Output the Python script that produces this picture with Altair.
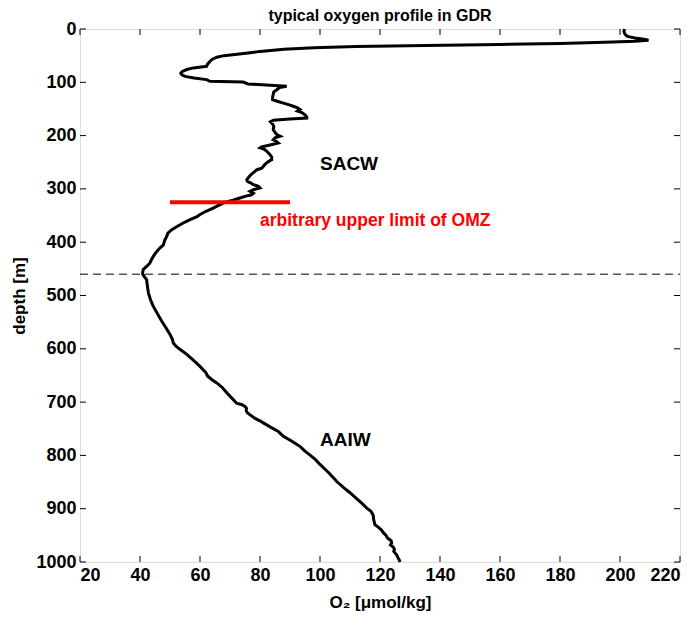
import altair as alt
import pandas as pd

# ---- data ----
depth = [0, 5, 10, 14, 17, 19, 21, 23, 25, 27, 29, 31, 33, 35, 38, 42, 45, 50, 53, 57,
         61, 66, 70, 73, 76, 80, 83, 86, 89, 92, 95, 98, 99.5, 103, 105, 107.6, 110, 114, 118, 123,
         128, 132.6, 136, 139, 142, 145, 148, 151, 154, 157, 161, 165, 167, 169, 171, 174, 178, 183, 189, 194,
         198, 201, 204, 208, 211, 214, 218, 221, 223, 226, 229, 235, 240, 245, 250, 255, 261, 264, 267, 273,
         279, 283, 286, 289, 292, 295, 298, 301, 304.5, 308, 311, 314, 317, 321, 325, 330, 336, 342, 348, 352,
         358, 364, 370, 376.5, 383, 389, 397, 405, 410, 414, 420, 427, 433, 439, 445, 451, 456, 460, 465, 470,
         480, 495, 508, 520, 534, 548, 560, 573, 582, 589, 595, 601, 610, 620, 633, 645, 651, 658, 664, 673,
         683, 693, 702, 705, 708, 712, 716, 720, 724, 731, 736, 739, 747, 755, 760, 764, 773, 783, 792, 800,
         808, 817, 825, 833, 841, 849, 860, 870, 880, 890, 899, 905, 910, 914, 918, 923, 930, 935, 940, 945,
         950, 955, 960, 964, 968, 972, 976, 980, 983, 987, 992, 996, 1000]
o2 = [201.5, 201.3, 201.7, 202.5, 205, 208, 209.5, 205, 195, 180, 160, 135, 112, 98, 88, 80, 76, 68, 65.6, 64,
      63.3, 62.5, 62.2, 57.8, 55.6, 54, 53.6, 54, 55, 58, 62.2, 63.3, 74.4, 76, 82, 88.9, 86.5, 85.6, 84.6, 84.4,
      84.2, 84.2, 86, 87.8, 89.5, 91.1, 92.5, 93.3, 92.5, 94, 95, 95.6, 95.6, 90, 84.5, 83.5, 84.2, 84.6, 84.4, 85,
      85.6, 86.7, 85, 84.4, 85.5, 86.1, 83, 80.5, 80, 81.5, 82.2, 83.2, 83.9, 83.9, 82.5, 81.5, 80.6, 79, 78.3, 77,
      76.1, 75.6, 75.8, 77, 77.8, 79.5, 80, 78, 76.7, 77.8, 77.2, 75, 73.3, 71, 68.5, 66.5, 64.4, 62, 60, 59,
      56.5, 54.4, 52.5, 50.6, 49.3, 48.9, 48.2, 47.8, 46.8, 46.1, 45.2, 44.4, 43.8, 43.3, 42.3, 41.1, 40.9, 40.9, 41.5, 42.2,
      42.4, 42.8, 43.5, 44.4, 45.8, 47.2, 48.6, 50, 50.8, 51.1, 52, 53.3, 55.5, 57.5, 60, 62, 62.5, 64, 65.6, 67.5,
      69, 70.7, 72.2, 74, 75, 75.5, 75.4, 75.8, 76.7, 78.5, 80.3, 81.1, 83.5, 86.1, 87, 87.8, 90.5, 93.3, 95, 96.8,
      98.5, 100, 101.5, 103, 104.3, 105.6, 107.8, 110, 112, 114, 115.6, 117, 117.5, 117.8, 117.8, 118, 118.3, 119.5, 120.5, 121.1,
      122, 122.5, 123.7, 123.9, 123.5, 124.4, 124.8, 124.6, 125, 125.6, 126, 126.4, 126.7]

x_ticks = [20, 40, 60, 80, 100, 120, 140, 160, 180, 200, 220]
y_ticks = [0, 100, 200, 300, 400, 500, 600, 700, 800, 900, 1000]

omz_depth = [325]
omz_x_start = [50]
omz_x_end = [90]
boundary_depth = [460]

label_text = ["SACW", "AAIW"]
label_x = [100, 100]
label_depth = [253, 772]

note_text = ["arbitrary upper limit of OMZ"]
note_x = [80]
note_depth = [361]

title_text = ["typical oxygen profile in GDR"]

W, H = 600, 533
FONT = "Liberation Sans"

profile = pd.DataFrame({"depth": depth, "o2": o2})
xt = pd.DataFrame({"v": x_ticks})
yt = pd.DataFrame({"v": y_ticks})
omz = pd.DataFrame({"d": omz_depth, "x1": omz_x_start, "x2": omz_x_end})
bnd = pd.DataFrame({"d": boundary_depth})
labels = pd.DataFrame({"t": label_text, "x": label_x, "d": label_depth})
notes = pd.DataFrame({"t": note_text, "x": note_x, "d": note_depth})
titles = pd.DataFrame({"t": title_text})

xs = alt.Scale(domain=[20, 220], nice=False, zero=False)
ys = alt.Scale(domain=[0, 1000], reverse=True, nice=False, zero=False)

xaxis = alt.Axis(values=x_ticks, format="d", title="O₂ [μmol/kg]", ticks=False, domain=False, grid=False,
                 labelFont=FONT, labelFontWeight="bold", labelFontSize=18, labelColor="black",
                 labelPadding=4, titleFont=FONT, titleFontWeight="bold", titleFontSize=17,
                 titleColor="black", titlePadding=10)
yaxis = alt.Axis(values=y_ticks, format="d", title="depth [m]", ticks=False, domain=False, grid=False,
                 labelFont=FONT, labelFontWeight="bold", labelFontSize=18, labelColor="black",
                 labelPadding=4, titleFont=FONT, titleFontWeight="bold", titleFontSize=17,
                 titleColor="black", titlePadding=7)


def X(field):
    return alt.X(field, type="quantitative", scale=xs, axis=xaxis)


def Y(field):
    return alt.Y(field, type="quantitative", scale=ys, axis=yaxis)


line = alt.Chart(profile).mark_line(color="black", strokeWidth=3).encode(
    x=X("o2"), y=Y("depth"), order=alt.Order("depth:Q"))

dashed = alt.Chart(bnd).mark_rule(color="black", strokeWidth=1, strokeDash=[8, 5]).encode(
    y=Y("d"), x=alt.value(0), x2=alt.value(W))

red = alt.Chart(omz).mark_rule(color="#ff0000", strokeWidth=4).encode(
    x=X("x1"), x2="x2:Q", y=Y("d"))

lab = alt.Chart(labels).mark_text(font=FONT, fontWeight="bold", fontSize=19, align="left",
                                  baseline="middle", color="black").encode(
    x=X("x"), y=Y("d"), text="t:N")

note = alt.Chart(notes).mark_text(font=FONT, fontWeight="bold", fontSize=17.5, align="left",
                                  baseline="middle", color="#ff0000").encode(
    x=X("x"), y=Y("d"), text="t:N")

ttl = alt.Chart(titles).mark_text(font=FONT, fontWeight="bold", fontSize=16, align="center",
                                  baseline="alphabetic", color="black").encode(
    x=alt.value(W / 2), y=alt.value(-8), text="t:N")

tb = alt.Chart(xt).mark_rule(color="black", strokeWidth=1).encode(
    x=X("v"), y=alt.value(H), y2=alt.value(H - 6))
tt = alt.Chart(xt).mark_rule(color="black", strokeWidth=1).encode(
    x=X("v"), y=alt.value(0), y2=alt.value(6))
tl = alt.Chart(yt).mark_rule(color="black", strokeWidth=1).encode(
    y=Y("v"), x=alt.value(0), x2=alt.value(6))
tr = alt.Chart(yt).mark_rule(color="black", strokeWidth=1).encode(
    y=Y("v"), x=alt.value(W), x2=alt.value(W - 6))

chart = alt.layer(tb, tt, tl, tr, dashed, line, red, lab, note, ttl).properties(
    width=W, height=H,
    autosize=alt.AutoSizeParams(type="none"),
    padding={"left": 72, "top": 21, "right": 6, "bottom": 60},
).configure_view(stroke="black", strokeWidth=1.2).configure(background="white")

chart.save("out.html", embed_options={"renderer": "svg", "actions": False})
